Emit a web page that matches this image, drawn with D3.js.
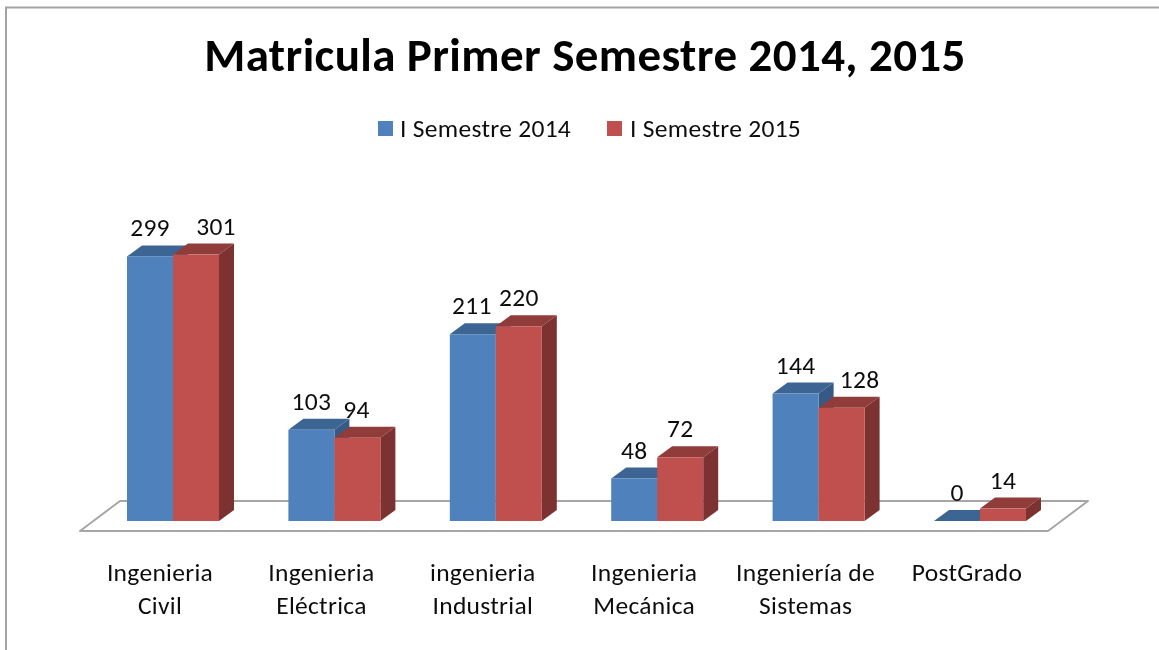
<!DOCTYPE html>
<html>
<head>
<meta charset="utf-8">
<script src="https://cdn.jsdelivr.net/npm/d3@7"></script>
<style>
html,body{margin:0;padding:0;background:#fff;overflow:hidden}
svg{display:block;filter:blur(0.45px)}
text{font-family:Carlito,Lato,"Open Sans",sans-serif;fill:#0d0d0d;letter-spacing:0.3px}
</style>
</head>
<body>
<div id="chart"></div>
<script>
const categories = ["Ingenieria Civil","Ingenieria Eléctrica","ingenieria Industrial","Ingenieria Mecánica","Ingeniería de Sistemas","PostGrado"];
const categoryLines = [["Ingenieria","Civil"],["Ingenieria","Eléctrica"],["ingenieria","Industrial"],["Ingenieria","Mecánica"],["Ingeniería de","Sistemas"],["PostGrado"]];
const seriesNames = ["I Semestre 2014","I Semestre 2015"];
const values2014 = [299,103,211,48,144,0];
const values2015 = [301,94,220,72,128,14];
const seriesColors = ["#4f81bd","#c0504d"];
const topColors = ["#3c6594","#8f3c3a"];
const sideColors = ["#365a85","#7b3230"];
const labelNudge2014 = [0,0,-1,0,0,0];
const labelNudge2015 = [20,-1,0,0,18,0];

const W = 1159, H = 650;
const svg = d3.select("#chart").append("svg").attr("width",W).attr("height",H);

// frame
svg.append("path").attr("d","M6,650V7.5H1159").attr("fill","none").attr("stroke","#a3a3a3").attr("stroke-width",2);

const dx = 15, dy = 11;
const x = d3.scaleBand().domain(categories).range([127-34.5,127-34.5+161.4*6]).paddingInner(0).paddingOuter(0);
const barW = 46;
const y = d3.scaleLinear().domain([0,300]).range([521,255.5]);

// floor
const floorFront = 531, floorBack = 501;
svg.append("path")
  .attr("d",d3.line()([[80,floorFront],[120,floorBack],[1088,floorBack],[1048,floorFront]])+"Z")
  .attr("fill","#fff").attr("stroke","#a6a6a6").attr("stroke-width",2).attr("stroke-linejoin","round");

const series = [values2014, values2015];
const nudges = [labelNudge2014, labelNudge2015];
const barLeft = (i,s) => x(categories[i]) + 34.5 + s*barW;

series.forEach((vals,s)=>{
  const g = svg.append("g").attr("class","series"+s);
  vals.forEach((v,i)=>{
    const l = barLeft(i,s), r = l+barW, t = y(v), b = y(0);
    if(v>0) g.append("path").attr("d",d3.line()([[r,t],[r+dx,t-dy],[r+dx,b-dy],[r,b]])+"Z").attr("fill",sideColors[s]);
    g.append("path").attr("d",d3.line()([[l,t],[l+dx,t-dy],[r+dx,t-dy],[r,t]])+"Z").attr("fill",topColors[s]);
    g.append("rect").attr("x",l).attr("y",t).attr("width",barW).attr("height",b-t).attr("fill",seriesColors[s]);
  });
});

// data labels
series.forEach((vals,s)=>{
  vals.forEach((v,i)=>{
    svg.append("text")
      .attr("x",barLeft(i,s)+barW/2+nudges[s][i])
      .attr("y",y(v)-20)
      .attr("text-anchor","middle")
      .attr("font-size",25.5)
      .text(v);
  });
});

// category labels
categoryLines.forEach((lines,i)=>{
  const cx = barLeft(i,1)-13;
  lines.forEach((ln,j)=>{
    svg.append("text").attr("x",cx).attr("y",581+j*33).attr("text-anchor","middle").attr("font-size",25.5).text(ln);
  });
});

// title
svg.append("text").attr("x",585).attr("y",71).attr("text-anchor","middle")
  .attr("font-size",47).attr("font-weight",700).style("fill","#000").style("letter-spacing","0.4px")
  .text("Matricula Primer Semestre 2014, 2015");

// legend
const legendX = [378,607], legendTextX = [400,630];
seriesNames.forEach((n,s)=>{
  svg.append("rect").attr("x",legendX[s]).attr("y",121).attr("width",15).attr("height",15).attr("fill",seriesColors[s]);
  svg.append("text").attr("x",legendTextX[s]).attr("y",136.5).attr("font-size",25.5).text(n);
});
</script>
</body>
</html>
